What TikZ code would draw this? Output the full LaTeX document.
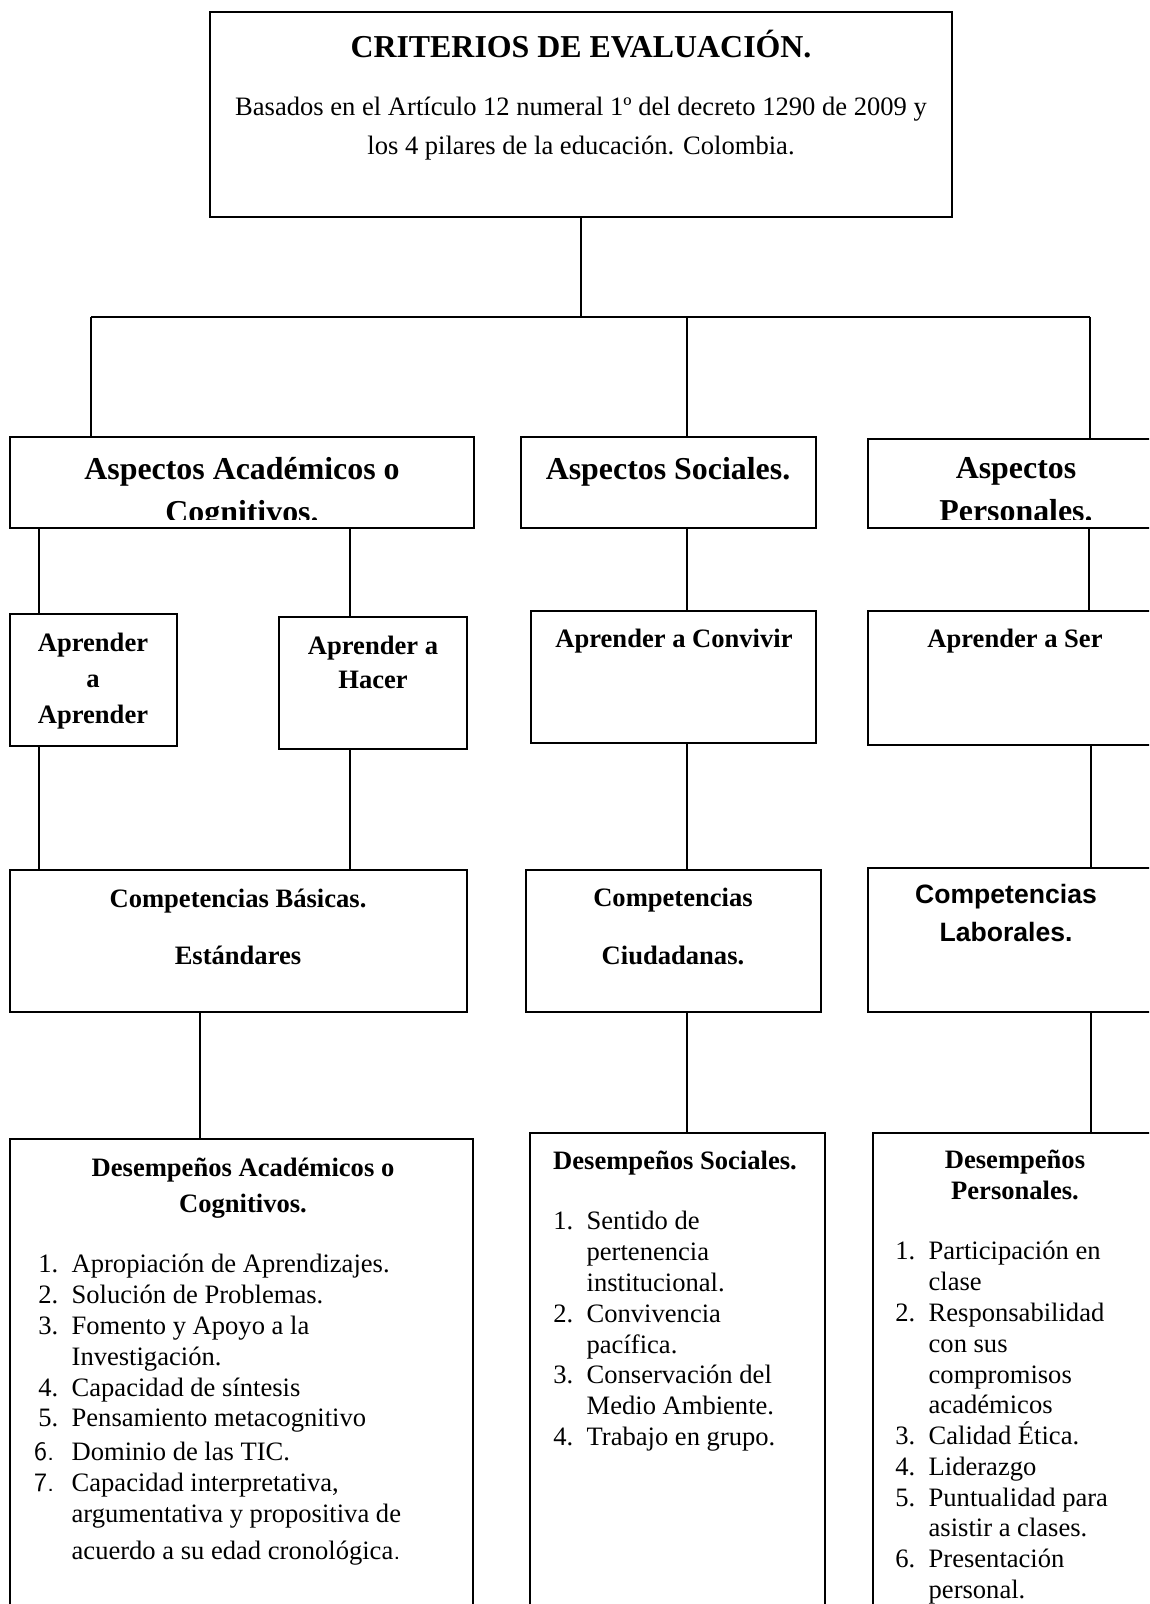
\documentclass[tikz,border=0pt]{standalone}
\usepackage{fontspec}
\setmainfont{Liberation Serif}
\newfontfamily\arialfont{Liberation Sans}
\usepackage{tikz}
\usetikzlibrary{positioning, fit, calc}

\newcommand{\li}[2]{\makebox[15pt][l]{#1}#2}

\begin{document}
\begin{tikzpicture}[
    x=0.4516pt, y=-0.4516pt,
    box/.style={rectangle, draw, line width=0.9pt, inner sep=0pt},
    link/.style={line width=0.5pt},
    head/.style={font=\fontsize{14.4}{19.4}\selectfont\bfseries, align=center, inner sep=0pt, anchor=north},
    sub/.style={font=\fontsize{12}{16.2}\selectfont\bfseries, align=center, inner sep=0pt, anchor=north},
    txt/.style={font=\fontsize{12}{13.9}\selectfont, align=left, inner sep=0pt, anchor=north west}
]
\useasboundingbox (0,0) rectangle (1149,1604);
\clip (0,0) rectangle (1149,1604);

% Title
\node[box, fit={(210,12) (952,217)}] (crit) {};
\node[head] (critT) at (581,30) {CRITERIOS DE EVALUACIÓN.};
\node[sub, font=\fontsize{12}{17.2}\selectfont] (critB) at (581,97) {Basados en el Artículo 12 numeral 1º del decreto 1290 de 2009 y\\los 4 pilares de la educación. Colombia.};

% Aspects
\node[box, fit={(10,437) (474,528)}] (aa) {};
\node[box, fit={(521,437) (816,528)}] (as) {};
\node[box, fit={(868,439) (1160,528)}] (ap) {};
\begin{scope}
\clip (aa.north west) rectangle ($(aa.south east)+(0,-10)$);
\node[head] (aaT) at (242,457) {Aspectos Académicos o\\Cognitivos.};
\end{scope}
\node[head] (asT) at (668,457) {Aspectos Sociales.};
\begin{scope}
\clip (ap.north west) rectangle ($(ap.south east)+(0,-10)$);
\node[head] (apT) at (1016,457) {Aspectos\\Personales.};
\end{scope}

% Pillars
\node[box, fit={(10,614) (177,746)}] (aaa) {};
\node[box, fit={(279,617) (467,749)}] (ah) {};
\node[box, fit={(531,611) (816,743)}] (ac) {};
\node[box, fit={(868,611) (1160,745)}] (aser) {};
\node[sub] (aaaT) at (93,633) {Aprender\\a\\Aprender};
\node[sub, font=\fontsize{12}{15.2}\selectfont\bfseries] (ahT) at (373,636) {Aprender a\\Hacer};
\node[sub] (acT) at (674,629) {Aprender a Convivir};
\node[sub] (aserT) at (1015,629) {Aprender a Ser};

% Competencies
\node[box, fit={(10,870) (467,1012)}] (cb) {};
\node[box, fit={(526,870) (821,1012)}] (cc) {};
\node[box, fit={(868,868) (1160,1012)}] (cl) {};
\node[sub, font=\fontsize{12}{25.7}\selectfont\bfseries] (cbT) at (238,889) {Competencias Básicas.\\Estándares};
\node[sub, font=\fontsize{12}{26.2}\selectfont\bfseries] (ccT) at (673,888) {Competencias\\Ciudadanas.};
\node[sub, font=\arialfont\fontsize{12}{17.2}\selectfont\bfseries] (clT) at (1006,884) {Competencias\\Laborales.};

% Performances
\node[box, fit={(10,1139) (473,1620)}] (da) {};
\node[box, fit={(530,1133) (825,1620)}] (ds) {};
\node[box, fit={(873,1133) (1160,1620)}] (dp) {};
\node[sub] (daT) at (243,1158) {Desempeños Académicos o\\Cognitivos.};
\node[sub] (dsT) at (675,1151) {Desempeños Sociales.};
\node[sub, font=\fontsize{12}{14}\selectfont\bfseries] (dpT) at (1015,1150) {Desempeños\\Personales.};

\node[txt] (daL) at (38,1254) {\li{1.}{Apropiación de Aprendizajes.}\\
  \li{2.}{Solución de Problemas.}\\
  \li{3.}{Fomento y Apoyo a la}\\
  \li{}{Investigación.}\\
  \li{4.}{Capacidad de síntesis}\\
  \li{5.}{Pensamiento metacognitivo}\\[1.5pt]
  \li{\hspace{-2pt}\sffamily 6.}{Dominio de las TIC.}\\
  \li{\hspace{-2pt}\sffamily 7.}{Capacidad interpretativa,}\\
  \li{}{argumentativa y propositiva de}\\[3pt]
  \li{}{acuerdo a su edad cronológica{\sffamily .}}};
\node[txt] (dsL) at (553,1211) {\li{1.}{Sentido de}\\
  \li{}{pertenencia}\\
  \li{}{institucional.}\\
  \li{2.}{Convivencia}\\
  \li{}{pacífica.}\\
  \li{3.}{Conservación del}\\
  \li{}{Medio Ambiente.}\\
  \li{4.}{Trabajo en grupo.}};
\node[txt] (dpL) at (895,1241) {\li{1.}{Participación en}\\
  \li{}{clase}\\
  \li{2.}{Responsabilidad}\\
  \li{}{con sus}\\
  \li{}{compromisos}\\
  \li{}{académicos}\\
  \li{3.}{Calidad Ética.}\\
  \li{4.}{Liderazgo}\\
  \li{5.}{Puntualidad para}\\
  \li{}{asistir a clases.}\\
  \li{6.}{Presentación}\\
  \li{}{personal.}};

% Connectors
\coordinate (jA) at (91,317);
\coordinate (jS) at (687,317);
\coordinate (jP) at (1090,317);
\draw[link] (crit.south) -- (crit.south |- jA);
\draw[link] (jA) -- (jP);
\draw[link] (jA) -- (jA |- aa.north);
\draw[link] (jS) -- (jS |- as.north);
\draw[link] (jP) -- (jP |- ap.north);

\draw[link] (aa.south -| 39,0) -- (aaa.north -| 39,0);
\draw[link] (aa.south -| 350,0) -- (ah.north -| 350,0);
\draw[link] (as.south -| 687,0) -- (ac.north -| 687,0);
\draw[link] (ap.south -| 1089,0) -- (aser.north -| 1089,0);

\draw[link] (aaa.south -| 39,0) -- (cb.north -| 39,0);
\draw[link] (ah.south -| 350,0) -- (cb.north -| 350,0);
\draw[link] (ac.south -| 687,0) -- (cc.north -| 687,0);
\draw[link] (aser.south -| 1091,0) -- (cl.north -| 1091,0);

\draw[link] (cb.south -| 200,0) -- (da.north -| 200,0);
\draw[link] (cc.south -| 687,0) -- (ds.north -| 687,0);
\draw[link] (cl.south -| 1091,0) -- (dp.north -| 1091,0);

\end{tikzpicture}
\end{document}
